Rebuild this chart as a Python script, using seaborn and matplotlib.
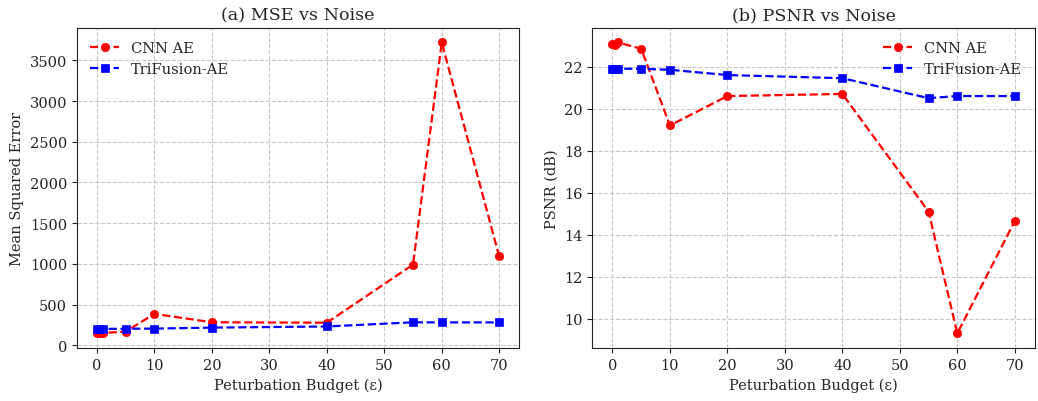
import matplotlib
matplotlib.use('Agg')
import matplotlib.pyplot as plt
import seaborn as sns
import pandas as pd

# ─── Data ───
eps = [0, 0.5, 1, 5, 10, 20, 40, 55, 60, 70]
mse_cnn = [155, 145, 150, 167, 385, 282, 276, 990, 3720, 1090]
mse_tri = [204, 198, 200, 202, 204, 216, 230, 281, 280, 280]
psnr_cnn = [23.1, 23.05, 23.15, 22.85, 19.2, 20.6, 20.7, 15.1, 9.3, 14.65]
psnr_tri = [21.9, 21.9, 21.9, 21.9, 21.85, 21.6, 21.45, 20.5, 20.6, 20.6]
labels = ['CNN AE', 'TriFusion-AE']

# ─── Setup ───
sns.set_style('ticks')
plt.rcParams['font.family'] = ['DejaVu Serif']
plt.rcParams['font.size'] = 10.5

fig, (ax1, ax2) = plt.subplots(1, 2, figsize=(10.38, 4.02), dpi=100)
fig.subplots_adjust(left=0.074, right=0.997, top=0.928, bottom=0.132, wspace=0.165)


def draw(ax, cnn, tri, title, ylabel, legend_loc):
    sns.lineplot(x=eps, y=cnn, ax=ax, color='red', linestyle='--', marker='o',
                 markersize=6, markeredgecolor='red', markeredgewidth=0.5,
                 linewidth=1.6, label=labels[0])
    sns.lineplot(x=eps, y=tri, ax=ax, color='blue', linestyle='--', marker='s',
                 markersize=6, markeredgecolor='blue', markeredgewidth=0.5,
                 linewidth=1.6, label=labels[1])
    ax.set_title(title, fontsize=12.6)
    ax.set_xlabel('Peturbation Budget (ε)', fontsize=10.5)
    ax.set_ylabel(ylabel, fontsize=10.5)
    ax.grid(True, linestyle='--', color='#c8c8c8', linewidth=0.8)
    for sp in ax.spines.values():
        sp.set_color('#222222')
    ax.tick_params(colors='#222222', labelsize=10.5)
    ax.legend(loc=legend_loc, frameon=False, fontsize=10.5)


draw(ax1, mse_cnn, mse_tri, '(a) MSE vs Noise', 'Mean Squared Error', 'upper left')
draw(ax2, psnr_cnn, psnr_tri, '(b) PSNR vs Noise', 'PSNR (dB)', 'upper right')

plt.savefig('out.png')
plt.close()
